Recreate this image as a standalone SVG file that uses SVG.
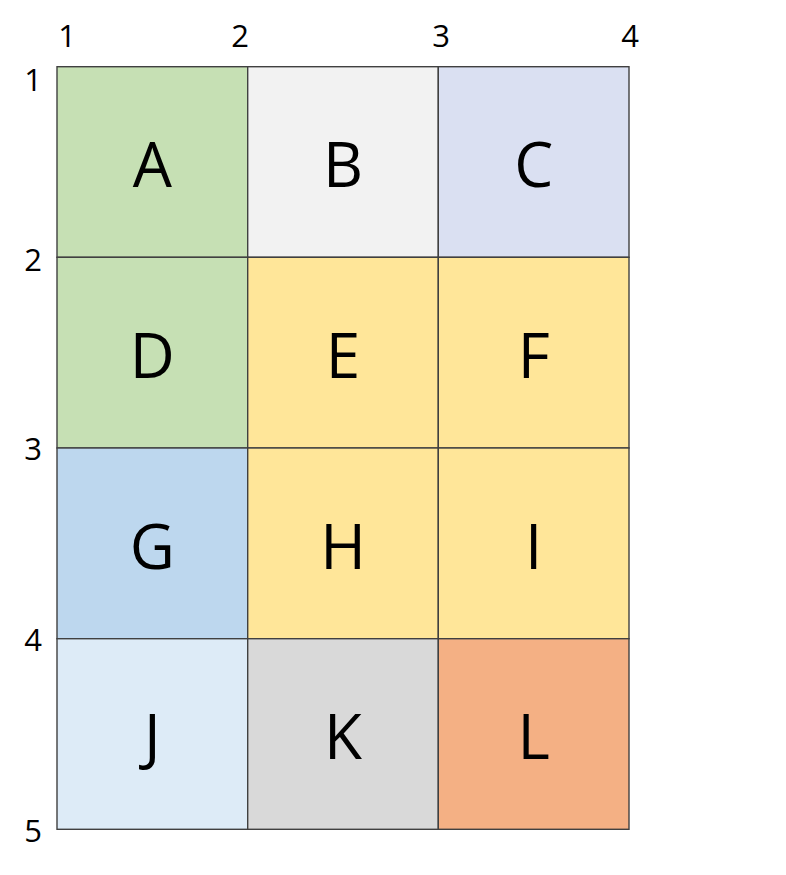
<svg xmlns="http://www.w3.org/2000/svg" width="786" height="875" viewBox="0 0 786 875">
<style>
.cell{stroke:#404040;stroke-width:1.4}
.lbl{font-family:"Open Sans","Liberation Sans",sans-serif;font-size:62px;fill:#000;text-anchor:middle}
.ax{font-family:"Open Sans","Liberation Sans",sans-serif;font-size:31px;fill:#000;text-anchor:middle}
</style>
<rect width="786" height="875" fill="#fff"/>
<g id="axes">
<text class="ax" x="67" y="47">1</text>
<text class="ax" x="240" y="47">2</text>
<text class="ax" x="441" y="47">3</text>
<text class="ax" x="630" y="47">4</text>
<text class="ax" x="33" y="91">1</text>
<text class="ax" x="33" y="271">2</text>
<text class="ax" x="33" y="460">3</text>
<text class="ax" x="33" y="651">4</text>
<text class="ax" x="33" y="842">5</text>
</g>
<g id="A"><rect class="cell" x="57" y="66.7" width="190.7" height="190.6" fill="#C6E0B4"/><text class="lbl" x="152.3" y="187">A</text></g>
<g id="B"><rect class="cell" x="247.7" y="66.7" width="190.6" height="190.6" fill="#F2F2F2"/><text class="lbl" x="343" y="187">B</text></g>
<g id="C"><rect class="cell" x="438.3" y="66.7" width="190.7" height="190.6" fill="#DAE0F2"/><text class="lbl" x="533.7" y="187">C</text></g>
<g id="D"><rect class="cell" x="57" y="257.3" width="190.7" height="190.7" fill="#C6E0B4"/><text class="lbl" x="152.3" y="378">D</text></g>
<g id="E"><rect class="cell" x="247.7" y="257.3" width="190.6" height="190.7" fill="#FFE699"/><text class="lbl" x="343" y="378">E</text></g>
<g id="F"><rect class="cell" x="438.3" y="257.3" width="190.7" height="190.7" fill="#FFE699"/><text class="lbl" x="533.7" y="378">F</text></g>
<g id="G"><rect class="cell" x="57" y="448" width="190.7" height="190.7" fill="#BDD7EE"/><text class="lbl" x="152.3" y="568.5">G</text></g>
<g id="H"><rect class="cell" x="247.7" y="448" width="190.6" height="190.7" fill="#FFE699"/><text class="lbl" x="343" y="568.5">H</text></g>
<g id="I"><rect class="cell" x="438.3" y="448" width="190.7" height="190.7" fill="#FFE699"/><text class="lbl" x="533.7" y="568.5">I</text></g>
<g id="J"><rect class="cell" x="57" y="638.7" width="190.7" height="190.6" fill="#DDEBF7"/><text class="lbl" x="152.3" y="759">J</text></g>
<g id="K"><rect class="cell" x="247.7" y="638.7" width="190.6" height="190.6" fill="#D9D9D9"/><text class="lbl" x="343" y="759">K</text></g>
<g id="L"><rect class="cell" x="438.3" y="638.7" width="190.7" height="190.6" fill="#F4B084"/><text class="lbl" x="533.7" y="759">L</text></g>
<g id="connectors"></g>
</svg>
